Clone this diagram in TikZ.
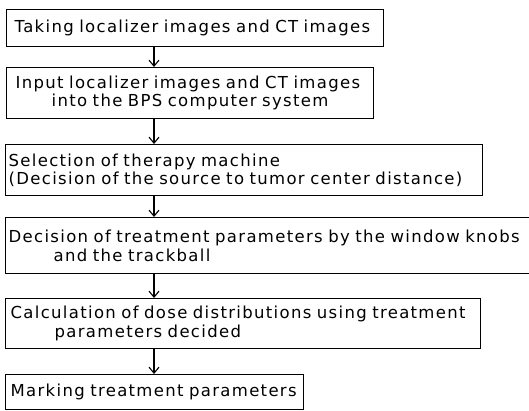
\documentclass[tikz,border=0pt]{standalone}
\usepackage{fontspec}
\usetikzlibrary{arrows.meta,calc}
\newfontfamily\flowfont[WordSpace=2.2,LetterSpace=8]{DejaVu Sans}
\begin{document}
\begin{tikzpicture}[x=1pt,y=-1pt,
  box/.style={draw, line width=1.3pt, anchor=north west, inner ysep=0pt,
    align=left, font=\flowfont\fontsize{16.5pt}{18.5pt}\selectfont},
  arr/.style={line width=1.2pt, -{Straight Barb[length=6pt,width=10pt,line width=1.1pt]}}]
\useasboundingbox (0,0) rectangle (529,411);
\clip (0,0) rectangle (529,411);
\node[box, inner xsep=8pt, minimum width=377pt, minimum height=37pt, text width=361pt] (b1) at (6,9)
  {Taking localizer images and CT images};
\node[box, inner xsep=9pt, minimum width=367pt, minimum height=51pt, text width=349pt] (b2) at (6,67)
  {Input localizer images and CT images\\\hspace*{36pt}into the BPS computer system};
\node[box, inner xsep=3pt, minimum width=477pt, minimum height=51pt, text width=471pt] (b3) at (5,144)
  {Selection of therapy machine\\(Decision of the source to tumor center distance)};
\node[box, inner xsep=3pt, minimum width=540pt, minimum height=56pt, text width=534pt] (b4) at (5,217)
  {Decision of treatment parameters by the window knobs\\\hspace*{45pt}and the trackball};
\node[box, inner xsep=5pt, minimum width=475pt, minimum height=50pt, text width=465pt] (b5) at (5,298)
  {Calculation of dose distributions using treatment\\\hspace*{44pt}parameters decided};
\node[box, inner xsep=5pt, minimum width=298pt, minimum height=35pt, text width=288pt] (b6) at (5,374)
  {Marking treatment parameters};
\draw[arr] ($(b1.south west)+(148,0)$) -- ($(b2.north west)+(148,0)$);
\draw[arr] ($(b2.south west)+(148,0)$) -- ($(b3.north west)+(149,0)$);
\draw[arr] ($(b3.south west)+(149,0)$) -- ($(b4.north west)+(149,0)$);
\draw[arr] ($(b4.south west)+(149,0)$) -- ($(b5.north west)+(149,0)$);
\draw[arr] ($(b5.south west)+(149,0)$) -- ($(b6.north west)+(149,0)$);
\end{tikzpicture}
\end{document}
